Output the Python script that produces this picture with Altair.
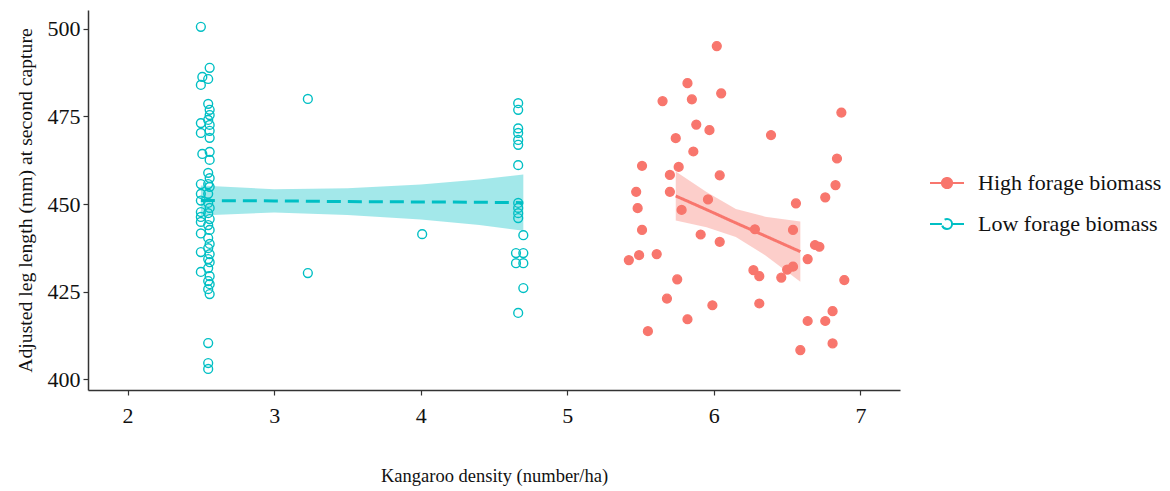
import altair as alt
import pandas as pd

groups = ["High forage biomass", "Low forage biomass"]
RED = "#F8766D"
TEAL = "#00BFC4"

# Low forage biomass (open teal circles)
low_x = [2.50, 2.56, 2.51, 2.55, 2.50, 2.55, 2.56, 2.56, 2.55, 2.50,
         2.56, 2.50, 2.56, 2.56, 2.51, 2.56, 2.56, 2.55, 2.56, 2.55,
         2.50, 2.56, 2.50, 2.55, 2.50, 2.55, 2.56, 2.50, 2.55, 2.50,
         2.56, 2.50, 2.55, 2.56, 2.50, 2.55, 2.56, 2.50, 2.55, 2.56,
         2.55, 2.56, 2.50, 2.55, 2.56, 2.55, 2.56, 2.55, 2.56, 2.55,
         2.55, 2.55,
         3.23, 3.23, 4.01,
         4.665, 4.665, 4.665, 4.665, 4.665, 4.665, 4.665, 4.665, 4.665, 4.665,
         4.665, 4.70, 4.65, 4.70, 4.65, 4.70, 4.70, 4.665]
low_y = [500.6, 488.9, 486.3, 485.7, 484.0, 478.6, 476.9, 475.4, 474.0, 473.1,
         472.6, 470.3, 470.9, 468.9, 464.3, 464.9, 462.6, 458.9, 457.4, 455.7,
         455.7, 454.9, 452.9, 452.9, 451.0, 450.3, 448.9, 447.7, 447.4, 446.3,
         445.7, 444.9, 444.0, 442.6, 441.6, 440.3, 438.6, 436.3, 437.4, 435.7,
         434.3, 433.4, 430.6, 431.7, 429.4, 428.0, 427.1, 425.7, 424.3, 410.3,
         404.6, 402.9,
         480.0, 430.3, 441.4,
         478.8, 476.9, 471.6, 470.3, 468.3, 466.9, 461.1, 450.3, 448.9, 447.4,
         446.0, 441.1, 436.0, 436.0, 433.1, 433.1, 426.0, 418.9]

# High forage biomass (filled red dots)
high_x = [6.02, 5.82, 6.05, 5.65, 5.85, 5.88, 5.97, 5.74, 5.86, 5.51,
          5.76, 5.70, 6.04, 5.47, 5.70, 5.96, 5.48, 5.78, 5.51, 5.91,
          6.04, 5.49, 5.61, 5.42, 5.75, 5.68, 5.99, 5.82, 5.55,
          6.87, 6.39, 6.84, 6.83, 6.76, 6.56, 6.28, 6.54, 6.69, 6.72,
          6.64, 6.27, 6.31, 6.54, 6.50, 6.46, 6.89, 6.31, 6.81, 6.64,
          6.76, 6.81, 6.59]
high_y = [495.1, 484.5, 481.6, 479.4, 479.9, 472.7, 471.1, 468.8, 465.0, 460.9,
          460.6, 458.3, 458.2, 453.5, 453.5, 451.3, 448.8, 448.3, 442.6, 441.3,
          439.2, 435.4, 435.7, 434.0, 428.5, 423.0, 421.1, 417.1, 413.7,
          476.1, 469.7, 463.0, 455.4, 451.9, 450.2, 442.8, 442.6, 438.3, 437.8,
          434.3, 431.1, 429.4, 432.1, 431.3, 429.0, 428.3, 421.6, 419.4, 416.6,
          416.6, 410.2, 408.3]

# Fitted lines with confidence bands
fit_high_x = [5.74, 5.95, 6.15, 6.35, 6.59]
fit_high_y = [452.3, 448.4, 444.6, 440.9, 436.4]
fit_high_lo = [445.3, 443.4, 440.6, 435.4, 427.8]
fit_high_hi = [459.3, 453.4, 448.6, 446.4, 445.0]

fit_low_x = [2.50, 3.00, 3.50, 4.00, 4.40, 4.70]
fit_low_y = [451.0, 450.9, 450.7, 450.6, 450.5, 450.4]
fit_low_lo = [446.7, 447.6, 446.9, 445.6, 444.0, 442.4]
fit_low_hi = [455.3, 454.2, 454.5, 455.6, 457.0, 458.4]

pts = pd.DataFrame({
    "x": high_x + low_x,
    "y": high_y + low_y,
    "g": [groups[0]] * len(high_x) + [groups[1]] * len(low_x),
})
fit = pd.DataFrame({
    "x": fit_high_x + fit_low_x,
    "fit": fit_high_y + fit_low_y,
    "lo": fit_high_lo + fit_low_lo,
    "hi": fit_high_hi + fit_low_hi,
    "g": [groups[0]] * len(fit_high_x) + [groups[1]] * len(fit_low_x),
})

FONT = "Liberation Serif"
xs = alt.Scale(domain=[1.73, 7.27], nice=False, zero=False)
ys = alt.Scale(domain=[396.9, 505.4], nice=False, zero=False)

x_enc = alt.X("x:Q", scale=xs, axis=alt.Axis(
    values=[2, 3, 4, 5, 6, 7], format="d", title="Kangaroo density (number/ha)",
    labelPadding=10, titlePadding=40))
y_enc = alt.Y("y:Q", scale=ys, axis=alt.Axis(
    values=[400, 425, 450, 475, 500], format="d",
    title="Adjusted leg length (mm) at second capture",
    labelPadding=3, titlePadding=12))

r = 0.3
k = 0.1657
sym_path = (f"M-1,0L{-r},0M{r},0L1,0"
            f"M{r},0C{r},{k},{k},{r},0,{r}C{-k},{r},{-r},{k},{-r},0"
            f"C{-r},{-k},{-k},{-r},0,{-r}C{k},{-r},{r},{-k},{r},0Z")
leg = dict(title=None, orient="none", legendX=841, legendY=155,
           symbolType=sym_path, symbolSize=1156, symbolStrokeWidth=2,
           labelFont=FONT, labelFontSize=22, labelColor="#111", labelLimit=400,
           labelOffset=13, rowPadding=12, padding=0)

points = alt.Chart(pts).mark_point(size=78, strokeWidth=1.4, opacity=1).encode(
    x=x_enc,
    y=y_enc,
    stroke=alt.Stroke("g:N", scale=alt.Scale(domain=groups, range=[RED, TEAL]),
                      legend=alt.Legend(**leg)),
    fill=alt.Fill("g:N", scale=alt.Scale(domain=groups, range=[RED, "transparent"]),
                  legend=alt.Legend(**leg)),
)

band = alt.Chart(fit).mark_area(opacity=0.36).encode(
    x=alt.X("x:Q", scale=xs),
    y=alt.Y("lo:Q", scale=ys),
    y2="hi:Q",
    color=alt.Color("g:N", scale=alt.Scale(domain=groups, range=[RED, TEAL]), legend=None),
)

line = alt.Chart(fit).mark_line(strokeWidth=3).encode(
    x=alt.X("x:Q", scale=xs),
    y=alt.Y("fit:Q", scale=ys),
    color=alt.Color("g:N", scale=alt.Scale(domain=groups, range=[RED, TEAL]), legend=None),
    strokeDash=alt.StrokeDash("g:N", scale=alt.Scale(domain=groups, range=[[1, 0], [14, 7]]),
                              legend=None),
)

chart = alt.layer(points, band, line).properties(
    width=812, height=380,
    autosize=alt.AutoSizeParams(type="none"),
    padding={"left": 88, "top": 10, "right": 270, "bottom": 101},
).configure_view(stroke=None).configure_axis(
    grid=False, domainColor="#333", domainWidth=1.5, tickColor="#333", tickSize=5,
    tickWidth=1.2, labelFont=FONT, labelFontSize=22, labelColor="#111",
    titleFont=FONT, titleFontSize=18.5, titleFontWeight="normal", titleColor="#111",
).configure_axisY(titleFontSize=19.7)

chart.save("out.html", embed_options={"renderer": "svg", "actions": False})
